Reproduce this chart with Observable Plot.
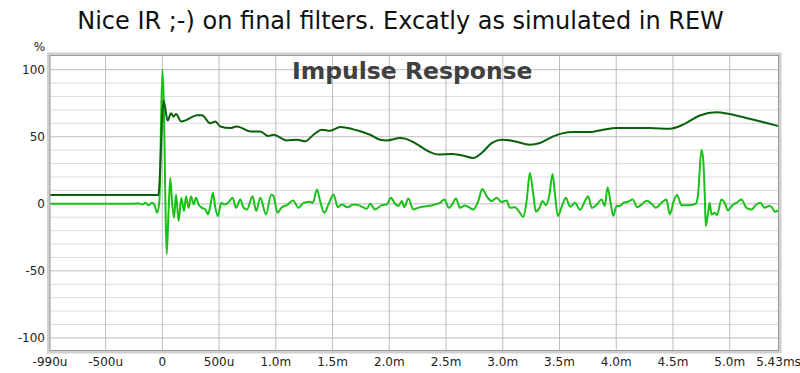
<!DOCTYPE html>
<html>
<head>
<meta charset="utf-8">
<script src="https://cdn.jsdelivr.net/npm/d3@7"></script>
<script src="https://cdn.jsdelivr.net/npm/@observablehq/plot@0.6"></script>
<style>
  html, body { margin: 0; padding: 0; background: white; }
</style>
</head>
<body>
<div id="chart"></div>
<script>
const titleText = "Nice IR ;-) on final filters. Excatly as simulated in REW";
const innerTitle = "Impulse Response";
const yUnit = "%";

const xTicks = [-0.99, -0.5, 0, 0.5, 1.0, 1.5, 2.0, 2.5, 3.0, 3.5, 4.0, 4.5, 5.0, 5.43];
const xTickLabels = ["-990u", "-500u", "0", "500u", "1.0m", "1.5m", "2.0m", "2.5m", "3.0m", "3.5m", "4.0m", "4.5m", "5.0m", "5.43ms"];
const xGrid = [-0.5, 0, 0.5, 1.0, 1.5, 2.0, 2.5, 3.0, 3.5, 4.0, 4.5, 5.0];
const yTicks = [-100, -50, 0, 50, 100];
const yMinor = [-90, -80, -70, -60, -40, -30, -20, -10, 10, 20, 30, 40, 60, 70, 80, 90];

// Smoothed (dark green) response, time in ms, value in %
const darkT = [-0.99, -0.035, 0.011, 0.047, 0.077, 0.099, 0.121, 0.165, 0.217, 0.305, 0.349, 0.423, 0.467, 0.511, 0.599, 0.658, 0.775, 0.863, 0.933, 0.98,
  1.098, 1.186, 1.259, 1.332, 1.406, 1.479, 1.567, 1.714, 1.831, 1.919, 1.978, 2.095, 2.139, 2.227, 2.344, 2.432, 2.55, 2.638, 2.74, 2.814,
  2.902, 2.99, 3.079, 3.195, 3.239, 3.327, 3.445, 3.533, 3.62, 3.768, 3.885, 4.003, 4.296, 4.472, 4.589, 4.736, 4.883, 4.996, 5.176, 5.43];
const darkV = [6.5, 6.5, 77, 62, 67.6, 65, 67, 61.4, 62.7, 66, 66, 60, 61.4, 57.7, 56.5, 57.7, 54, 54, 50.5, 51.5,
  47.3, 47.8, 46.6, 51.5, 55.3, 54.5, 57.2, 54.8, 51.5, 47.8, 47.3, 49, 48.6, 45.3, 39.2, 36.7, 37.2, 36.2, 34.2, 37.9,
  45.3, 47.8, 47.1, 44.6, 44.1, 45.3, 50.3, 52.7, 53.5, 53.5, 55.3, 56.5, 56.5, 56, 59, 65.9, 68.3, 67, 63.4, 58];

// Impulse (bright green), time in ms, value in %
const brightT = [-0.99, -0.255, -0.211, -0.176, -0.15, -0.121, -0.091, -0.068, -0.047, -0.026, 0.0, 0.013, 0.026, 0.038, 0.055, 0.07, 0.085, 0.103, 0.121, 0.143,
  0.167, 0.191, 0.209, 0.232, 0.253, 0.276, 0.297, 0.32, 0.349, 0.379, 0.402, 0.425, 0.446, 0.467, 0.49, 0.519, 0.548, 0.578, 0.619, 0.649,
  0.687, 0.716, 0.746, 0.795, 0.827, 0.863, 0.913, 0.96, 0.98, 1.015, 1.054, 1.098, 1.151, 1.2, 1.244, 1.303, 1.327, 1.362, 1.391, 1.426,
  1.464, 1.508, 1.547, 1.582, 1.631, 1.684, 1.728, 1.767, 1.802, 1.831, 1.875, 1.934, 1.978, 2.013, 2.051, 2.08, 2.11, 2.133, 2.168, 2.212,
  2.271, 2.344, 2.403, 2.447, 2.485, 2.526, 2.55, 2.588, 2.623, 2.667, 2.74, 2.784, 2.82, 2.858, 2.902, 2.946, 2.99, 3.034, 3.063, 3.107,
  3.151, 3.18, 3.21, 3.239, 3.269, 3.292, 3.321, 3.351, 3.38, 3.409, 3.439, 3.46, 3.486, 3.521, 3.556, 3.594, 3.636, 3.682, 3.724, 3.753,
  3.785, 3.829, 3.871, 3.9, 3.923, 3.95, 3.973, 4.003, 4.035, 4.067, 4.105, 4.146, 4.184, 4.231, 4.269, 4.311, 4.349, 4.399, 4.443, 4.472,
  4.507, 4.536, 4.575, 4.633, 4.683, 4.707, 4.721, 4.751, 4.765, 4.78, 4.789, 4.809, 4.824, 4.839, 4.868, 4.888, 4.927, 4.956, 4.985, 5.024,
  5.059, 5.103, 5.147, 5.191, 5.235, 5.27, 5.308, 5.346, 5.376, 5.396, 5.43];
const brightV = [0, 0, 0.5, -0.5, 0.7, -1, 0.7, -1, -6.7, 2, 100, 75, 7, -37.6, -5.4, 19.3, 2, -10.4, 7, -12.9,
  4.5, -5.4, 5.7, -3, 5.7, -0.5, 4.5, -0.5, -3, -4.2, -7.9, -0.5, 8.2, -3, -9.1, 0.7, -0.5, 0.7, 4.5, -3,
  3.3, -3, -4.2, 5.7, -5.4, 4.5, -7.9, 7, 5.7, -6.7, -2.5, -1, 2.5, -3, 0.7, 1.5, 0.7, 10.7, 2, -6.7,
  -0.5, 7, -2.5, -0.5, -2.5, -0.5, -1, -2.5, -3.7, 0, -4.2, -1, -0.5, 4.5, 0, -1.7, 2, -2.5, 4, -4.2,
  -2.5, -1.7, -0.5, 0.7, 3.3, -3, -1, 4, -3, -1.2, -4.2, 2, 11.1, 5.7, 2, 4.5, 1.3, 2.5, -3, -2.5,
  -6.7, -9.9, 2, 23, 7, -5.9, -3.4, 2, -1, 5.7, 22.3, 7, -9.1, -1.7, 4.5, -2.2, 0.7, -4.5, 2, 5.7,
  -3.2, -0.5, 3.3, -1.5, 12.4, 1, -9, -1.7, -1.5, 1, 1.5, 3.3, -2.5, 0, 2.2, 0, -3, 0.7, 3.3, -7.9,
  2, 6.5, -1, -1, -0.5, 0.7, 7, 40.4, 34.2, 7, -16.6, -6.7, 0.7, -7.9, -6.7, -8.4, 3.3, 0.7, -4.9, -1,
  0.7, 3.3, -3, -4.2, -0.5, 0.7, -3, -1.7, -3, -5.9, -5];

const dark = darkT.map((t, i) => ({t, v: darkV[i]}));
const bright = brightT.map((t, i) => ({t, v: brightV[i]}));
const xLab = new Map(xTicks.map((t, i) => [t, xTickLabels[i]]));

const chart = Plot.plot({
  width: 800,
  height: 373,
  marginTop: 55,
  marginBottom: 23,
  marginLeft: 49.5,
  marginRight: 22,
  style: {fontFamily: "DejaVu Sans", fontSize: "12px", background: "white", color: "#222"},
  x: {domain: [-0.99, 5.43]},
  y: {domain: [-109.4, 110.6]},
  marks: [
    Plot.ruleY(yMinor, {stroke: "#dcdcdc", strokeWidth: 1}),
    Plot.ruleY(yTicks, {stroke: "#bdbdbd", strokeWidth: 1}),
    Plot.ruleX(xGrid, {stroke: "#bdbdbd", strokeWidth: 1}),
    Plot.text([innerTitle], {frameAnchor: "top", lineAnchor: "top", textAnchor: "middle", dx: -2, dy: 6.5, fontSize: 23.5, fontWeight: "bold", fill: "#404040"}),
    Plot.line(bright, {x: "t", y: "v", stroke: "#19c119", strokeWidth: 2, curve: "monotone-x"}),
    Plot.line(dark, {x: "t", y: "v", stroke: "#0b600b", strokeWidth: 2, curve: "monotone-x"}),
    Plot.frame({stroke: "#cfcfcf", strokeWidth: 3, inset: -1.5}),
    Plot.frame({stroke: "#9a9a9a", strokeWidth: 1}),
    Plot.axisX(xTicks, {tickSize: 0, tickPadding: 7, tickFormat: d => xLab.get(d), label: null, fontSize: 12}),
    Plot.axisY(yTicks, {tickSize: 0, tickPadding: 5, tickFormat: d => String(d), label: null, fontSize: 12}),
    Plot.text([yUnit], {frameAnchor: "top-left", lineAnchor: "top", textAnchor: "middle", dx: -10.5, dy: -13.5, fontSize: 12, fill: "#222"}),
    Plot.text([titleText], {frameAnchor: "top", lineAnchor: "top", textAnchor: "middle", dx: -13.75, dy: -44, fontSize: 24, fill: "#111"})
  ]
});
document.getElementById("chart").appendChild(chart);
</script>
</body>
</html>
